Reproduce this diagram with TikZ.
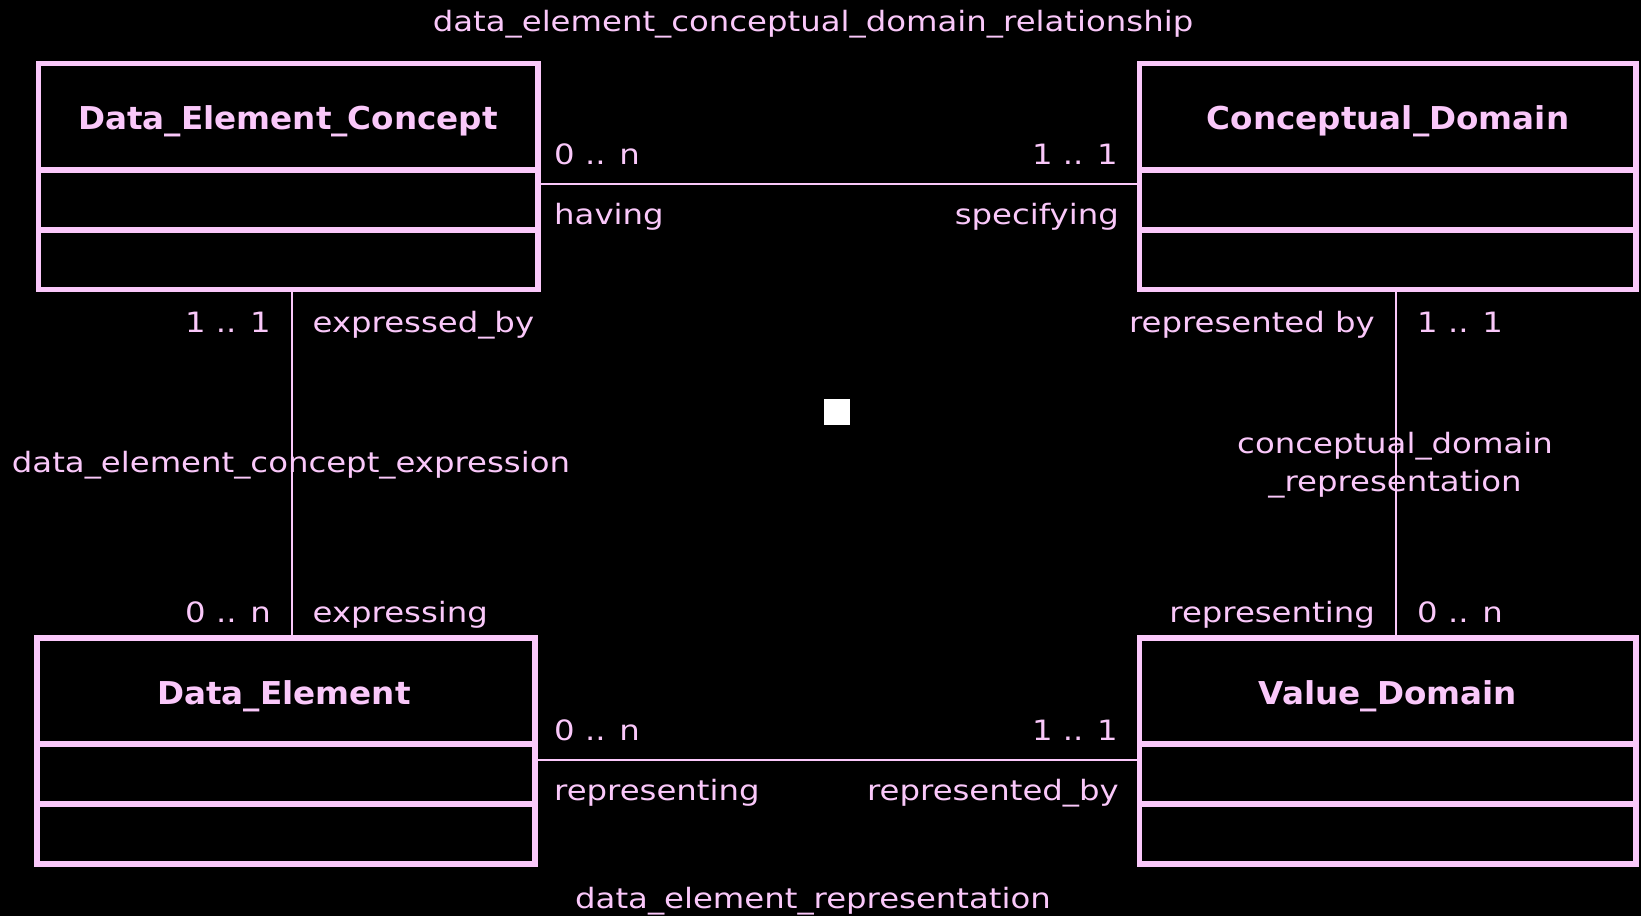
\documentclass[tikz,border=0pt]{standalone}
\usepackage{fontspec}
\setmainfont{DejaVu Sans}
\newfontfamily\labfont[FakeStretch=1.155]{DejaVu Sans}
\newfontfamily\ttlfont[FakeStretch=1.035]{DejaVu Sans Bold}
\definecolor{pk}{RGB}{250,200,250}
\begin{document}
\begin{tikzpicture}[x=1pt,y=-1pt,
  umlbox/.style={draw=pk, line width=5.5pt, rectangle, inner sep=0pt, outer sep=0pt},
  divider/.style={draw=pk, line width=5.5pt},
  assoc/.style={draw=pk, line width=2pt},
  ttl/.style={text=pk, font=\fontsize{31.5}{38}\ttlfont, inner sep=0pt},
  lab/.style={text=pk, font=\fontsize{28}{38}\labfont, inner sep=0pt},
]
\fill[black] (0,0) rectangle (1641,916);
\useasboundingbox (0,0) rectangle (1641,916);

% class boxes
\node[umlbox, minimum width=499.5, minimum height=226] (dec) at (288.4,176.5) {};
\node[umlbox, minimum width=496.6, minimum height=226] (cd) at (1387.7,176.5) {};
\node[umlbox, minimum width=498, minimum height=226] (de) at (286,751) {};
\node[umlbox, minimum width=496.6, minimum height=226] (vd) at (1387.7,751) {};

\coordinate (d1) at (0,170);
\coordinate (d2) at (0,230);
\coordinate (d3) at (0,744);
\coordinate (d4) at (0,804);
\foreach \b in {dec,cd}{
  \draw[divider] (\b.west |- d1) -- (\b.east |- d1);
  \draw[divider] (\b.west |- d2) -- (\b.east |- d2);
}
\foreach \b in {de,vd}{
  \draw[divider] (\b.west |- d3) -- (\b.east |- d3);
  \draw[divider] (\b.west |- d4) -- (\b.east |- d4);
}

\node[ttl, anchor=base] (tdec) at (288,129) {Data\_Element\_Concept};
\node[ttl, anchor=base] (tcd) at (1388,129) {Conceptual\_Domain};
\node[ttl, anchor=base] (tde) at (284,704) {Data\_Element};
\node[ttl, anchor=base] (tvd) at (1388,704) {Value\_Domain};

% connectors
\coordinate (ytop) at (0,183.5);
\coordinate (ybot) at (0,759.5);
\coordinate (xl) at (292.3,0);
\coordinate (xr) at (1396,0);
\draw[assoc] (dec.east |- ytop) -- (cd.west |- ytop);
\draw[assoc] (de.east |- ybot) -- (vd.west |- ybot);
\draw[assoc] (dec.south -| xl) -- (de.north -| xl);
\draw[assoc] (cd.south -| xr) -- (vd.north -| xr);

% association names
\node[lab, anchor=base] (n1) at (813,31) {data\_element\_conceptual\_domain\_relationship};
\node[lab, anchor=base] (n2) at (813,908) {data\_element\_representation};
\node[lab, anchor=base] (n3) at (291,472) {data\_element\_concept\_expression};
\node[lab, anchor=base, align=center] (n4) at (1395,491) {conceptual\_domain\\\_representation};

% role labels top
\node[lab, anchor=base west] (a1) at (554,164.5) {0 .. n};
\node[lab, anchor=base east] (a2) at (1118,164.5) {1 .. 1};
\node[lab, anchor=base west] (a3) at (554,224.5) {having};
\node[lab, anchor=base east] (a4) at (1119,224.5) {specifying};
% role labels bottom
\node[lab, anchor=base west] (b1) at (554,740.5) {0 .. n};
\node[lab, anchor=base east] (b2) at (1118,740.5) {1 .. 1};
\node[lab, anchor=base west] (b3) at (554,800.5) {representing};
\node[lab, anchor=base east] (b4) at (1119,800.5) {represented\_by};
% role labels left
\node[lab, anchor=base east] (c1) at (271,332) {1 .. 1};
\node[lab, anchor=base west] (c2) at (312.5,332) {expressed\_by};
\node[lab, anchor=base east] (c3) at (271,622.5) {0 .. n};
\node[lab, anchor=base west] (c4) at (312.5,622.5) {expressing};
% role labels right
\node[lab, anchor=base east] (e1) at (1375,332) {represented by};
\node[lab, anchor=base west] (e2) at (1417,332) {1 .. 1};
\node[lab, anchor=base east] (e3) at (1375,622.5) {representing};
\node[lab, anchor=base west] (e4) at (1417,622.5) {0 .. n};

% white marker
\fill[white] (824,399) rectangle (850,425);
\end{tikzpicture}
\end{document}
